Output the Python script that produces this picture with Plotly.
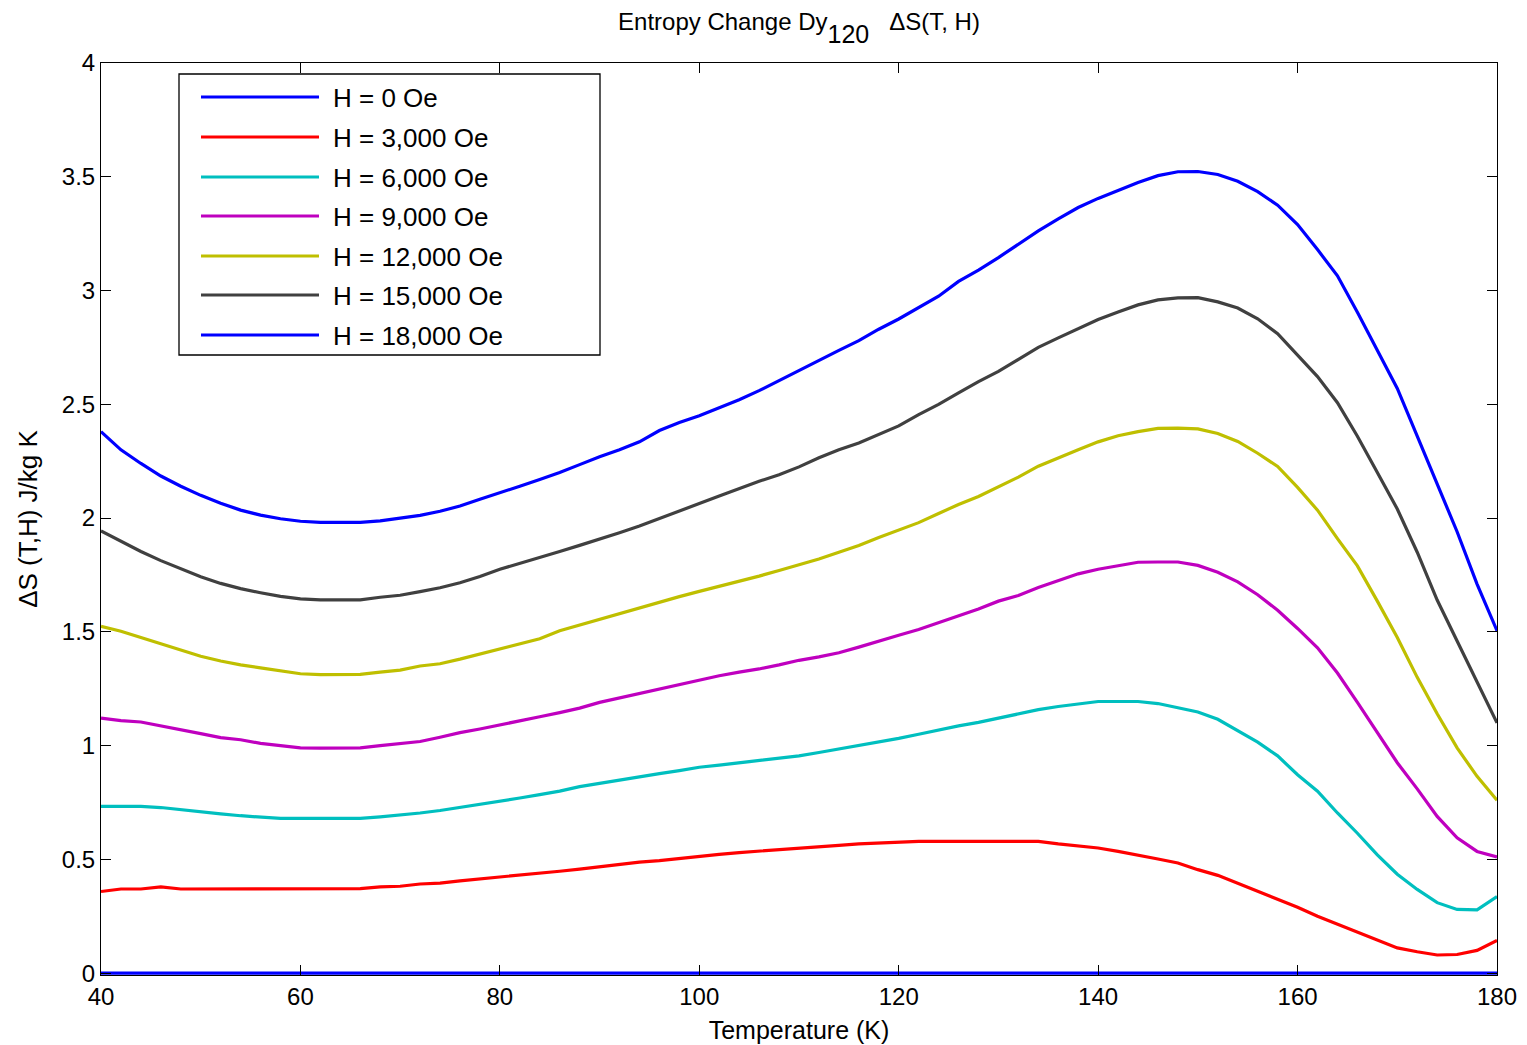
import plotly.graph_objects as go

# Temperature grid (K)
T = [40, 42, 44, 46, 48, 50, 52, 54, 56, 58, 60, 62, 64, 66, 68, 70, 72, 74, 76, 78,
     80, 82, 84, 86, 88, 90, 92, 94, 96, 98, 100, 102, 104, 106, 108, 110, 112, 114, 116, 118,
     120, 122, 124, 126, 128, 130, 132, 134, 136, 138, 140, 142, 144, 146, 148, 150, 152, 154, 156, 158,
     160, 162, 164, 166, 168, 170, 172, 174, 176, 178, 180]

# Zero-field curve spans the whole range at 0
T_H0 = [40, 180]
dS_H0 = [0.0, 0.0]

dS_3000 = [0.359, 0.370, 0.370, 0.379, 0.370, 0.370, 0.370, 0.370, 0.370, 0.370,
           0.370, 0.370, 0.370, 0.372, 0.379, 0.382, 0.392, 0.396, 0.406, 0.414,
           0.421, 0.430, 0.438, 0.448, 0.457, 0.468, 0.478, 0.488, 0.495, 0.505,
           0.513, 0.522, 0.530, 0.537, 0.543, 0.550, 0.556, 0.562, 0.568, 0.572,
           0.577, 0.579, 0.579, 0.579, 0.579, 0.579, 0.579, 0.579, 0.568, 0.558,
           0.550, 0.535, 0.520, 0.502, 0.484, 0.455, 0.430, 0.395, 0.360, 0.325,
           0.290, 0.250, 0.215, 0.180, 0.145, 0.111, 0.094, 0.080, 0.082, 0.100, 0.144]

dS_6000 = [0.733, 0.733, 0.733, 0.728, 0.718, 0.709, 0.700, 0.692, 0.685, 0.680,
           0.680, 0.680, 0.680, 0.680, 0.687, 0.694, 0.704, 0.715, 0.728, 0.742,
           0.755, 0.770, 0.785, 0.800, 0.820, 0.835, 0.850, 0.865, 0.877, 0.890,
           0.905, 0.914, 0.924, 0.935, 0.943, 0.955, 0.970, 0.985, 1.000, 1.016,
           1.032, 1.050, 1.070, 1.087, 1.102, 1.120, 1.140, 1.158, 1.172, 1.184,
           1.194, 1.194, 1.194, 1.185, 1.165, 1.148, 1.116, 1.065, 1.015, 0.955,
           0.872, 0.800, 0.704, 0.615, 0.520, 0.435, 0.368, 0.310, 0.280, 0.278, 0.337]

dS_9000 = [1.121, 1.110, 1.104, 1.088, 1.070, 1.053, 1.035, 1.026, 1.010, 1.001,
           0.990, 0.989, 0.989, 0.990, 1.000, 1.008, 1.018, 1.037, 1.057, 1.073,
           1.090, 1.110, 1.127, 1.145, 1.165, 1.190, 1.210, 1.230, 1.250, 1.270,
           1.290, 1.307, 1.323, 1.337, 1.355, 1.375, 1.390, 1.408, 1.433, 1.460,
           1.485, 1.510, 1.540, 1.568, 1.600, 1.635, 1.660, 1.695, 1.725, 1.755,
           1.775, 1.790, 1.806, 1.807, 1.807, 1.792, 1.762, 1.720, 1.663, 1.595,
           1.515, 1.430, 1.319, 1.190, 1.060, 0.925, 0.810, 0.689, 0.595, 0.535, 0.511]

dS_12000 = [1.524, 1.503, 1.475, 1.447, 1.420, 1.393, 1.372, 1.355, 1.342, 1.328,
            1.316, 1.312, 1.312, 1.313, 1.323, 1.332, 1.350, 1.360, 1.380, 1.402,
            1.423, 1.447, 1.470, 1.505, 1.530, 1.555, 1.580, 1.608, 1.630, 1.655,
            1.678, 1.700, 1.722, 1.745, 1.770, 1.795, 1.820, 1.850, 1.880, 1.915,
            1.948, 1.980, 2.020, 2.060, 2.095, 2.137, 2.180, 2.228, 2.265, 2.300,
            2.335, 2.362, 2.380, 2.394, 2.395, 2.392, 2.372, 2.337, 2.285, 2.227,
            2.135, 2.035, 1.910, 1.790, 1.635, 1.475, 1.300, 1.140, 0.990, 0.865, 0.760]

dS_15000 = [1.944, 1.897, 1.853, 1.813, 1.776, 1.742, 1.713, 1.690, 1.672, 1.656,
            1.645, 1.641, 1.641, 1.641, 1.652, 1.661, 1.677, 1.694, 1.716, 1.743,
            1.775, 1.800, 1.825, 1.853, 1.880, 1.907, 1.936, 1.965, 1.999, 2.030,
            2.064, 2.097, 2.130, 2.162, 2.190, 2.225, 2.265, 2.300, 2.330, 2.366,
            2.405, 2.455, 2.500, 2.550, 2.600, 2.645, 2.697, 2.750, 2.792, 2.832,
            2.873, 2.906, 2.937, 2.959, 2.968, 2.969, 2.950, 2.923, 2.876, 2.810,
            2.714, 2.622, 2.507, 2.360, 2.200, 2.040, 1.850, 1.640, 1.460, 1.280, 1.100]

dS_18000 = [2.380, 2.300, 2.240, 2.185, 2.140, 2.100, 2.065, 2.035, 2.013, 1.997,
            1.986, 1.981, 1.981, 1.981, 1.988, 2.000, 2.012, 2.030, 2.053, 2.083,
            2.110, 2.140, 2.170, 2.200, 2.235, 2.270, 2.300, 2.335, 2.385, 2.420,
            2.450, 2.485, 2.520, 2.560, 2.605, 2.650, 2.695, 2.737, 2.780, 2.830,
            2.875, 2.925, 2.975, 3.040, 3.090, 3.145, 3.205, 3.262, 3.315, 3.365,
            3.405, 3.440, 3.475, 3.505, 3.522, 3.523, 3.510, 3.480, 3.435, 3.375,
            3.290, 3.180, 3.065, 2.905, 2.740, 2.570, 2.360, 2.150, 1.940, 1.710, 1.505]

labels = ["H = 0 Oe", "H = 3,000 Oe", "H = 6,000 Oe", "H = 9,000 Oe",
          "H = 12,000 Oe", "H = 15,000 Oe", "H = 18,000 Oe"]
colors = ["#0000FF", "#FF0000", "#00BFBF", "#BF00BF", "#BFBF00", "#404040", "#0000FF"]

series = [(T_H0, dS_H0), (T, dS_3000), (T, dS_6000), (T, dS_9000),
          (T, dS_12000), (T, dS_15000), (T, dS_18000)]

FONT = "Liberation Sans, Arial, sans-serif"
W, H = 1527, 1045
ML, MR, MT, MB = 101, 30, 63, 70

fig = go.Figure()
for (xs, ys), name, col in zip(series, labels, colors):
    fig.add_trace(go.Scatter(x=xs, y=ys, mode="lines", name=name,
                             line=dict(color=col, width=3.2), showlegend=False))

# Boxed legend with long line samples (positions in pixels converted to paper units)
pw, ph = W - ML - MR, H - MT - MB


def px(x):
    return (x - ML) / pw


def py(y):
    return (H - MB - y) / ph


shapes = [dict(type="rect", xref="paper", yref="paper",
               x0=px(179), x1=px(600), y0=py(355), y1=py(74),
               line=dict(color="black", width=1.3), fillcolor="white", layer="above")]
annotations = []
row_y = [97, 137, 177, 216, 256, 295, 335]
for yy, name, col in zip(row_y, labels, colors):
    shapes.append(dict(type="line", xref="paper", yref="paper",
                       x0=px(201), x1=px(319), y0=py(yy), y1=py(yy),
                       line=dict(color=col, width=3.2), layer="above"))
    annotations.append(dict(xref="paper", yref="paper", x=px(331), y=py(yy + 1),
                            text=name, showarrow=False, xanchor="left", yanchor="middle",
                            font=dict(family=FONT, size=26, color="black")))

axis_common = dict(showline=True, linecolor="black", linewidth=1, mirror="ticks",
                   ticks="inside", ticklen=10, tickcolor="black", tickwidth=1,
                   showgrid=False, zeroline=False, automargin=False,
                   tickfont=dict(family=FONT, size=24, color="black"))

title_text = ("Entropy Change Dy"
              "<span style='font-size:25px;baseline-shift:-13px'>120</span>"
              "\u00a0\u00a0\u00a0ΔS(T, H)")

fig.update_layout(
    width=W, height=H,
    margin=dict(l=ML, r=MR, t=MT, b=MB, autoexpand=False),
    paper_bgcolor="white", plot_bgcolor="white",
    title=dict(text=title_text,
               x=(ML + pw / 2) / W, xanchor="center", y=1 - 22 / H, yanchor="middle",
               font=dict(family=FONT, size=24, color="black")),
    xaxis=dict(range=[40, 180], tickvals=[40, 60, 80, 100, 120, 140, 160, 180],
               title=dict(text="Temperature (K)", standoff=12,
                          font=dict(family=FONT, size=25, color="black")),
               **axis_common),
    yaxis=dict(range=[-0.008, 4.0], tickvals=[0, 0.5, 1, 1.5, 2, 2.5, 3, 3.5, 4],
               ticktext=["0", "0.5", "1", "1.5", "2", "2.5", "3", "3.5", "4"],
               title=dict(text="ΔS (T,H) J/kg K", standoff=16,
                          font=dict(family=FONT, size=26, color="black")),
               **axis_common),
    shapes=shapes,
    annotations=annotations,
)

fig.write_html("out.html")
